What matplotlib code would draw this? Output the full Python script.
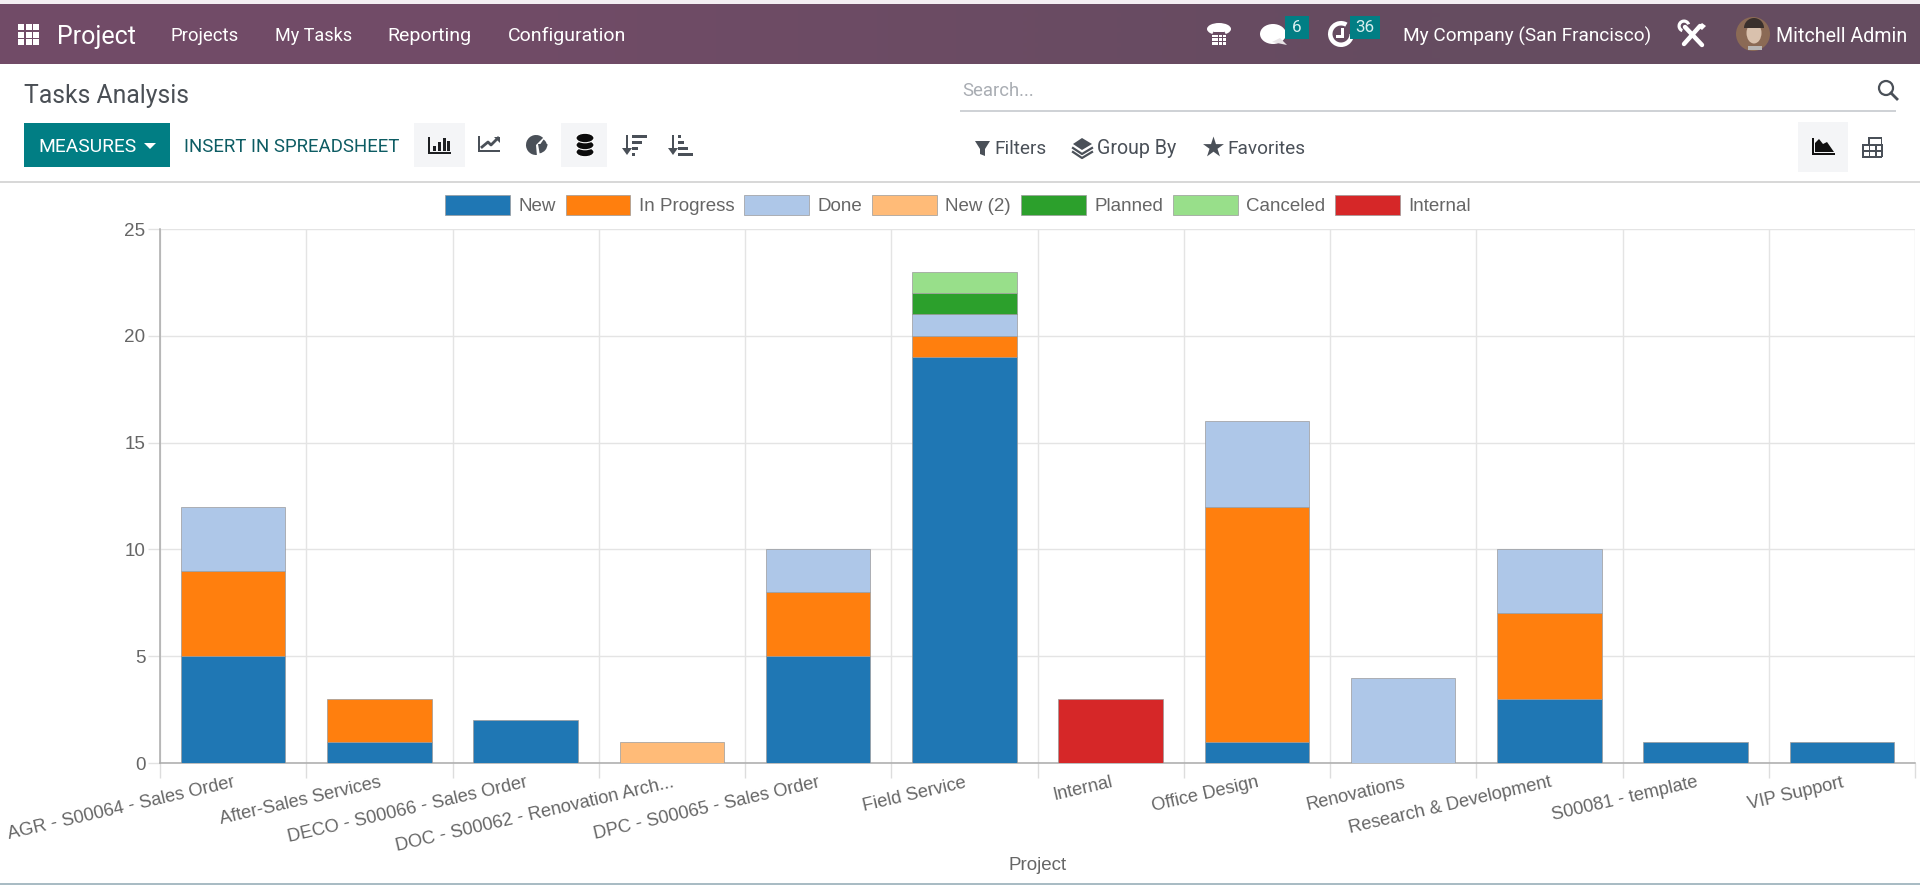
import numpy as np
import matplotlib
matplotlib.use("Agg")
import matplotlib.pyplot as plt
from matplotlib.colors import LinearSegmentedColormap
from matplotlib.patches import Rectangle, Polygon, Wedge, Circle, Ellipse

W, H = 1920, 885

projects = [
    "AGR - S00064 - Sales Order",
    "After-Sales Services",
    "DECO - S00066 - Sales Order",
    "DOC - S00062 - Renovation Arch...",
    "DPC - S00065 - Sales Order",
    "Field Service",
    "Internal",
    "Office Design",
    "Renovations",
    "Research & Development",
    "S00081 - template",
    "VIP Support",
]
stage_names = ["New", "In Progress", "Done", "New (2)", "Planned", "Canceled", "Internal"]
stage_colors = ["#1f77b4", "#ff7f0e", "#aec7e8", "#ffbb78", "#2ca02c", "#98df8a", "#d62728"]

new = [5, 1, 2, 0, 5, 19, 0, 1, 0, 3, 1, 1]
in_progress = [4, 2, 0, 0, 3, 1, 0, 11, 0, 4, 0, 0]
done = [3, 0, 0, 0, 2, 1, 0, 4, 4, 3, 0, 0]
new_2 = [0, 0, 0, 1, 0, 0, 0, 0, 0, 0, 0, 0]
planned = [0, 0, 0, 0, 0, 1, 0, 0, 0, 0, 0, 0]
canceled = [0, 0, 0, 0, 0, 1, 0, 0, 0, 0, 0, 0]
internal = [0, 0, 0, 0, 0, 0, 3, 0, 0, 0, 0, 0]
stages = [new, in_progress, done, new_2, planned, canceled, internal]

y_ticks = [0, 5, 10, 15, 20, 25]

UI_FONT = "Roboto"
CHART_FONT = "Liberation Sans"
TEAL = "#017e84"
ICON = "#4a5058"
NAV = "#6a4c63"

fig = plt.figure(figsize=(W / 100, H / 100), dpi=100, facecolor="white")

# page chrome, drawn in pixel coordinates
ui = fig.add_axes([0, 0, 1, 1], zorder=0)
nav_cmap = LinearSegmentedColormap.from_list("nav", ["#714b67", "#654c60"])
ui.imshow([[0, 1]], extent=(0, W, 64, 4), cmap=nav_cmap, aspect="auto", interpolation="bilinear")
ui.set_xlim(0, W)
ui.set_ylim(H, 0)
ui.axis("off")


def rect(x0, y0, x1, y1, color, **kw):
    ui.add_patch(Rectangle((x0, y0), x1 - x0, y1 - y0, facecolor=color, edgecolor="none", **kw))


def poly(points, color):
    ui.add_patch(Polygon(points, closed=True, facecolor=color, edgecolor="none"))


def label(x, y, s, size, color, ha="left", weight="normal"):
    ui.text(x, y, s, fontsize=size * 0.72, color=color, ha=ha, va="center",
            family=UI_FONT, fontweight=weight)


rect(0, 0, W, 4, "#f3eef2")
rect(0, 883, W, H, "#a9bcc4")
rect(0, 181, W, 183, "#d8d8d8")

# nav bar
for i in range(3):
    for j in range(3):
        rect(18 + i * 7.5, 24 + j * 7.5, 24 + i * 7.5, 30 + j * 7.5, "white")
label(57, 37, "Project", 25, "white")
for x, s, size in [(170, "Projects", 18.7), (275, "My Tasks", 18), (387, "Reporting", 19.5),
                   (508, "Configuration", 19.5)]:
    label(x, 36, s, size, "white")

# phone
ui.add_patch(Ellipse((1219, 29), 24, 12, facecolor="white", edgecolor="none"))
ui.add_patch(Ellipse((1219, 34), 13, 8, facecolor=NAV, edgecolor="none"))
rect(1214, 27, 1224, 32, "white")
for i in range(4):
    for j in range(3):
        rect(1211.5 + i * 3.9, 34.5 + j * 3.8, 1214.5 + i * 3.9, 37 + j * 3.8, "white")
# chat bubbles
ui.add_patch(Ellipse((1273, 34), 26, 20, facecolor="white", edgecolor="none"))
poly([(1272, 42), (1287, 45), (1280, 38)], "#e8e4e7")
rect(1285, 16, 1309, 39, TEAL)
label(1297, 28, "6", 17, "#d8eeee", ha="center")
# clock
ui.add_patch(Wedge((1341, 34), 13, 0, 300, width=4.5, facecolor="white", edgecolor="none"))
rect(1341, 28, 1343.5, 37, "white")
rect(1336, 35, 1343.5, 37.5, "white")
rect(1350, 16, 1380, 39, TEAL)
label(1365, 28, "36", 17, "#d8eeee", ha="center")
label(1403, 36, "My Company (San Francisco)", 19, "white")
# tools
ui.plot([1685, 1702], [27, 45], color="white", lw=3.2, solid_capstyle="round")
ui.add_patch(Wedge((1684, 26), 6.5, 110, 340, width=3.2, facecolor="white", edgecolor="none"))
ui.plot([1700, 1684], [26, 44], color="white", lw=3.2, solid_capstyle="round")
poly([(1698, 27), (1702, 23), (1706, 26), (1702, 30)], "white")
# avatar
ui.add_patch(Circle((1753, 34), 17, facecolor="#8b6a55", edgecolor="none"))
ui.add_patch(Ellipse((1754, 33), 15, 21, facecolor="#d9c1ad", edgecolor="none"))
ui.add_patch(Wedge((1754, 28), 10, 180, 360, facecolor="#3a302c", edgecolor="none"))
rect(1748, 46, 1762, 50, "#b9b6b4")
label(1776, 36, "Mitchell Admin", 19.7, "white")

# title row
label(24, 96, "Tasks Analysis", 24.8, "#4a4f55")
label(962, 91, "Search...", 18.5, "#a9adb3")
rect(960, 110, 1896, 111.5, "#cfd2d6")
ui.add_patch(Circle((1886, 88), 7, facecolor="none", edgecolor=ICON, lw=1.6))
ui.plot([1891, 1897], [93, 99], color=ICON, lw=2)

# toolbar
rect(24, 123, 170, 167, TEAL)
label(38, 147, "MEASURES", 19.2, "white")
poly([(144, 143), (156, 143), (150, 149)], "white")
label(184, 147, "INSERT IN SPREADSHEET", 18.7, "#0d5c63")
rect(414, 123, 465, 167, "#f4f5f7")
rect(561, 123, 607, 167, "#f4f5f7")

# bar icon
rect(428, 152, 451, 153.5, "#1d1f22")
rect(428, 137, 430, 153, "#1d1f22")
for x, top in [(433, 146), (438, 142), (443, 138), (447, 141)]:
    rect(x, top, x + 3, 151, "#1d1f22")
# line icon
rect(478, 150, 500, 152, ICON)
rect(478, 136, 480, 152, ICON)
ui.plot([482, 488, 491, 498], [147, 142, 145, 138], color=ICON, lw=2)
poly([(494, 137), (500, 137), (500, 143)], ICON)
# pie icon
ui.add_patch(Wedge((536, 145), 10, 85, 315, facecolor=ICON, edgecolor="none"))
ui.add_patch(Wedge((538, 144), 9.5, 0, 80, facecolor=ICON, edgecolor="none"))
ui.add_patch(Wedge((539, 146), 8, -55, 0, facecolor=ICON, edgecolor="none"))
# stack icon
for y in [152, 145, 138]:
    ui.add_patch(Ellipse((585, y), 18, 9.5, facecolor="#0c0c0c", edgecolor="white", lw=0.8))
# sort icons
for x0, widths in [(626, [15, 10, 6, 3]), (672, [3, 6, 10, 15])]:
    rect(x0, 135, x0 + 2, 150, ICON)
    poly([(x0 - 4, 148), (x0 + 6, 148), (x0 + 1, 155)], ICON)
    for k, w in enumerate(widths):
        rect(x0 + 6, 135 + k * 6, x0 + 6 + w, 138 + k * 6, ICON)

# filter row
poly([(975, 141), (990, 141), (985, 149), (985, 156), (980, 154), (980, 149)], ICON)
label(994, 149, "Filters", 19, ICON)
poly([(1082, 138), (1092, 144), (1082, 150), (1073, 144)], ICON)
ui.plot([1073, 1082, 1092], [148, 154, 148], color=ICON, lw=1.6)
ui.plot([1073, 1082, 1092], [152, 158, 152], color=ICON, lw=1.6)
label(1097, 149, "Group By", 19.7, ICON)
ui.scatter([1213], [147], marker="*", s=250, color=ICON, linewidths=0)
label(1227, 149, "Favorites", 19, ICON)

# view switch
rect(1798, 122, 1848, 172, "#f4f5f7")
rect(1812, 153, 1835, 155, "#111111")
rect(1812, 138, 1814, 155, "#111111")
poly([(1815, 152), (1815, 143), (1819, 139), (1823, 144), (1827, 142), (1834, 152)], "#111111")
for y in [144, 150, 156]:
    rect(1862, y, 1882, y + 1.5, ICON)
for x in [1862, 1868.5, 1875, 1881]:
    rect(x, 144, x + 1.5, 157, ICON)
rect(1868, 137, 1882, 138.5, ICON)
rect(1868, 137, 1869.5, 144, ICON)
rect(1880.5, 137, 1882, 144, ICON)

# chart
ax = fig.add_axes([160 / W, (H - 763) / H, 1755 / W, 534 / H], zorder=1)
ax.set_facecolor("none")

x = np.arange(len(projects))
bottom = np.zeros(len(projects))
for name, color, values in zip(stage_names, stage_colors, stages):
    values = np.array(values, dtype=float)
    keep = values > 0
    ax.bar(x[keep], values[keep], 0.715, bottom=bottom[keep], color=color, label=name,
           edgecolor="#9a9a9a", linewidth=0.5, zorder=3)
    bottom += values

ax.set_xlim(-0.5, len(projects) - 0.5)
ax.set_ylim(0, 25)
ax.set_yticks(y_ticks)
ax.set_xticks(x)
ax.set_xticks(np.arange(-0.5, len(projects)), minor=True)
ax.set_xticklabels(projects, rotation=13, ha="right", va="top", rotation_mode="anchor",
                   family=CHART_FONT, fontsize=13.15, color="#666666")
for t in ax.get_yticklabels():
    t.set_family(CHART_FONT)
    t.set_fontsize(13.6)
    t.set_color("#666666")
ax.tick_params(axis="x", which="major", length=0, pad=8)
ax.tick_params(axis="x", which="minor", length=11, width=1, color="#dddddd")
ax.tick_params(axis="y", which="major", length=8.5, width=1, color="#e2e2e2", pad=2)
ax.grid(axis="y", which="major", color="#e4e4e4", lw=1, zorder=1)
ax.grid(axis="x", which="minor", color="#e4e4e4", lw=1, zorder=1)
ax.set_axisbelow(True)
for side in ["top", "right"]:
    ax.spines[side].set_visible(False)
for side in ["left", "bottom"]:
    ax.spines[side].set_color("#aaaaaa")
    ax.spines[side].set_linewidth(1.1)
ax.set_xlabel("Project", family=CHART_FONT, fontsize=13.5, color="#666666", va="center")
ax.xaxis.set_label_coords(0.5, -102 / 534)

fig.legend(loc="center", bbox_to_anchor=(958 / W, 1 - 205 / H), ncol=7, frameon=False,
           prop={"family": CHART_FONT, "size": 13.5}, labelcolor="#666666",
           handlelength=3.45, handleheight=1.25, handletextpad=0.45, columnspacing=0.53,
           borderpad=0, borderaxespad=0)

fig.savefig("out.png", dpi=100)
